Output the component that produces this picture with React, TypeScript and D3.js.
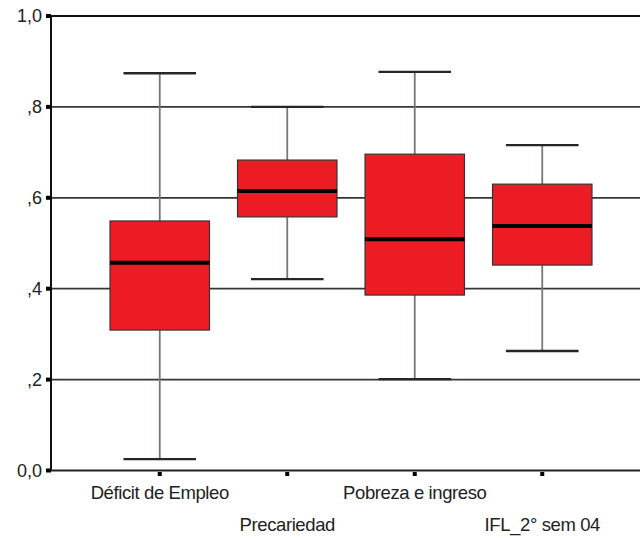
import React from "react";
import * as d3 from "d3";

// Box plot summary per indicator: whisker low, Q1, median, Q3, whisker high
const categories = ["Déficit de Empleo", "Precariedad", "Pobreza e ingreso", "IFL_2° sem 04"];
const whiskerLow = [0.025, 0.421, 0.201, 0.263];
const q1 = [0.309, 0.558, 0.386, 0.452];
const median = [0.457, 0.615, 0.509, 0.538];
const q3 = [0.549, 0.683, 0.696, 0.630];
const whiskerHigh = [0.874, 0.8, 0.877, 0.716];

const yTicks = [0, 0.2, 0.4, 0.6, 0.8, 1.0];
const yTickLabels = ["0,0", ",2", ",4", ",6", ",8", "1,0"];

const W = 640;
const H = 538;
const FONT = "'Liberation Sans', Arial, sans-serif";

export default function App() {
  const axisX = 51;
  const y = d3.scaleLinear().domain([0, 1]).range([470.5, 16]);
  const x = d3
    .scaleBand<string>()
    .domain(categories)
    .range([96, 606])
    .paddingInner(0.22)
    .paddingOuter(0.11);
  const bw = x.bandwidth();
  const capW = bw * 0.73;

  return (
    <svg
      width={W}
      height={H}
      style={{ position: "absolute", left: 0, top: 0, background: "#fff" }}
    >
      <rect x={0} y={0} width={W} height={H} fill="#fff" />
      {/* horizontal grid lines */}
      {yTicks.slice(1, 5).map((t) => (
        <line
          key={t}
          x1={axisX}
          x2={W}
          y1={y(t)}
          y2={y(t)}
          stroke="#3a3535"
          strokeWidth={1.8}
        />
      ))}
      {/* top frame line */}
      <line x1={axisX} x2={W} y1={y(1)} y2={y(1)} stroke="#111" strokeWidth={2} />

      {/* boxes */}
      {categories.map((c, i) => {
        const cx = (x(c) as number) + bw / 2;
        const left = x(c) as number;
        return (
          <g key={c}>
            <line
              x1={cx}
              x2={cx}
              y1={y(whiskerHigh[i])}
              y2={y(q3[i])}
              stroke="#7d7575"
              strokeWidth={1.8}
            />
            <line
              x1={cx}
              x2={cx}
              y1={y(q1[i])}
              y2={y(whiskerLow[i])}
              stroke="#7d7575"
              strokeWidth={1.8}
            />
            <line
              x1={cx - capW / 2}
              x2={cx + capW / 2}
              y1={y(whiskerHigh[i])}
              y2={y(whiskerHigh[i])}
              stroke="#2a2525"
              strokeWidth={2.4}
            />
            <line
              x1={cx - capW / 2}
              x2={cx + capW / 2}
              y1={y(whiskerLow[i])}
              y2={y(whiskerLow[i])}
              stroke="#2a2525"
              strokeWidth={2.4}
            />
            <rect
              x={left}
              y={y(q3[i])}
              width={bw}
              height={y(q1[i]) - y(q3[i])}
              fill="#ED1C24"
              stroke="#3a3232"
              strokeWidth={1.2}
            />
            <line
              x1={left}
              x2={left + bw}
              y1={y(median[i])}
              y2={y(median[i])}
              stroke="#000"
              strokeWidth={4}
            />
          </g>
        );
      })}

      {/* axes */}
      <line x1={axisX} x2={axisX} y1={y(1) - 1} y2={y(0)} stroke="#111" strokeWidth={2} />
      <line x1={axisX} x2={W} y1={y(0)} y2={y(0)} stroke="#222" strokeWidth={2} />

      {yTicks.map((t, i) => (
        <g key={t}>
          <rect x={axisX - 5} y={y(t) - 2} width={5} height={4} fill="#000" />
          <text
            x={42}
            y={y(t) + 6}
            textAnchor="end"
            fontFamily={FONT}
            fontSize={18}
            fill="#222"
          >
            {yTickLabels[i]}
          </text>
        </g>
      ))}

      {categories.map((c, i) => {
        const cx = (x(c) as number) + bw / 2;
        return (
          <g key={c}>
            <rect x={cx - 2} y={y(0) + 1.5} width={4} height={4} fill="#000" />
            <text
              x={cx}
              y={i % 2 === 0 ? 499 : 531}
              textAnchor="middle"
              fontFamily={FONT}
              fontSize={18.5}
              letterSpacing={-0.4}
              fill="#222"
            >
              {c}
            </text>
          </g>
        );
      })}
    </svg>
  );
}
